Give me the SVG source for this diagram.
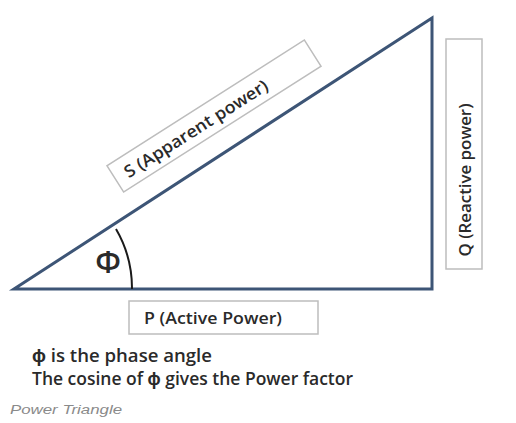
<svg xmlns="http://www.w3.org/2000/svg" width="516" height="423" viewBox="0 0 516 423">
<style>
.edge{fill:none;stroke:#3d5576;stroke-width:3;stroke-linejoin:miter}
.box{fill:none;stroke:#bdbdbd;stroke-width:1.5}
.lbl{font-family:"Open Sans","Liberation Sans",sans-serif;font-weight:600;fill:#2a2a2a}
</style>
<rect width="516" height="423" fill="#ffffff"/>
<g id="connectors">
<polygon class="edge" points="14,289 432,289 432,18"/>
<path d="M116,229 A118,118 0 0 1 132,289" fill="none" stroke="#1a1a1a" stroke-width="2"/>
</g>
<g id="node-s" transform="translate(214,116) rotate(-32.5)">
<rect class="box" x="-117" y="-15.5" width="234" height="31"/>
<text class="lbl" x="-22" y="7" font-size="17" textLength="167" lengthAdjust="spacingAndGlyphs" text-anchor="middle">S (Apparent power)</text>
</g>
<g id="node-q" transform="translate(464,154) rotate(-90)">
<rect class="box" x="-115" y="-18" width="230" height="36"/>
<text class="lbl" x="-26" y="6.5" font-size="17" textLength="153" lengthAdjust="spacingAndGlyphs" text-anchor="middle">Q (Reactive  power)</text>
</g>
<g id="node-p">
<rect class="box" x="129" y="301" width="189" height="33"/>
<text class="lbl" x="213" y="324" font-size="17" textLength="138" lengthAdjust="spacingAndGlyphs" text-anchor="middle">P (Active Power)</text>
</g>
<g id="node-phi">
<text class="lbl" x="108" y="273" font-size="31" font-weight="700" text-anchor="middle" fill="#111">Φ</text>
</g>
<g id="notes">
<text class="lbl" x="32" y="362" font-size="18" textLength="180" lengthAdjust="spacingAndGlyphs">ϕ is the phase angle</text>
<text class="lbl" x="32" y="385" font-size="18" textLength="321" lengthAdjust="spacingAndGlyphs">The cosine of ϕ gives the Power factor</text>
<text x="10" y="414" font-family="Liberation Sans,Arial,sans-serif" font-style="italic" font-size="12" fill="#8a8a8a" textLength="112" lengthAdjust="spacingAndGlyphs">Power  Triangle</text>
</g>
</svg>
